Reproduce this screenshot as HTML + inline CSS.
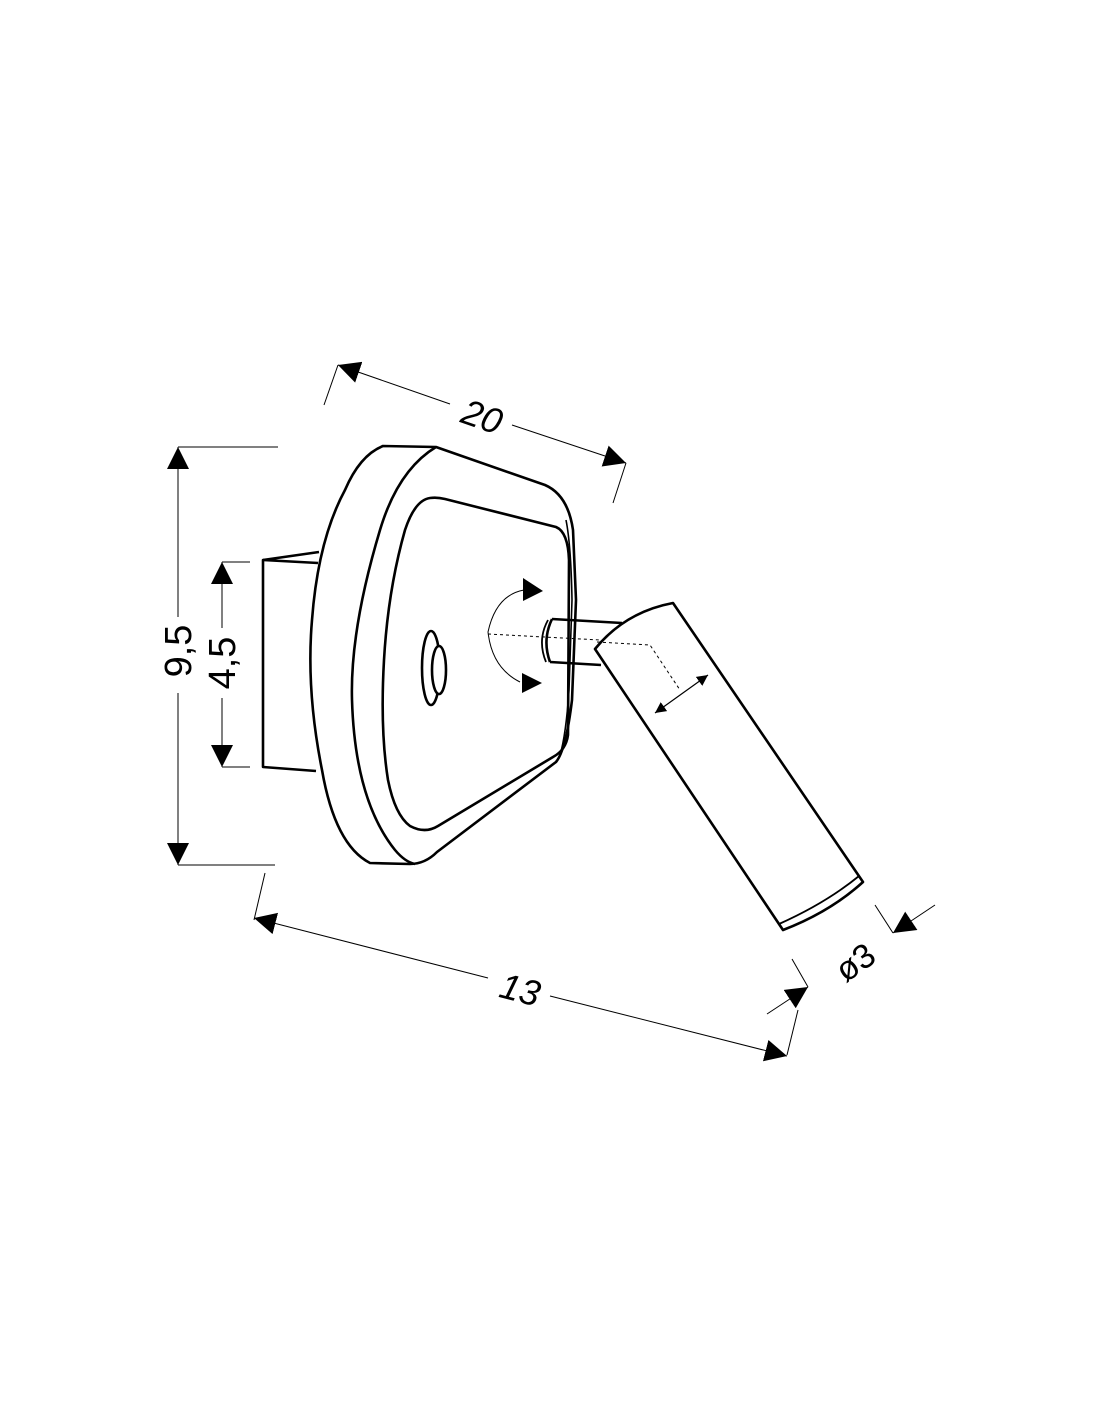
<!DOCTYPE html>
<html><head><meta charset="utf-8"><style>
html,body{margin:0;padding:0;background:#fff;}
svg{display:block;}
text{font-family:"Liberation Sans",sans-serif;fill:#000;}
</style></head><body>
<svg width="1100" height="1422" viewBox="0 0 1100 1422" xmlns="http://www.w3.org/2000/svg">
<defs>
<marker id="ah" viewBox="0 0 10 10" refX="10" refY="5" markerWidth="22" markerHeight="22" markerUnits="userSpaceOnUse" orient="auto-start-reverse"><path d="M0,0 L10,5 L0,10 Z" fill="#000"/></marker>
<marker id="sa" viewBox="0 0 10 10" refX="10" refY="5" markerWidth="11" markerHeight="11" markerUnits="userSpaceOnUse" orient="auto-start-reverse"><path d="M0,0 L10,5 L0,10 Z" fill="#000"/></marker>
</defs>

<g fill="none" stroke="#000" stroke-width="2.6" stroke-linejoin="round">
<path d="M319,552 L263,560 L263,767 L316,771"/>
<path d="M263,560 L318,563"/>

<path d="M383,446 L436,447 L545,485 Q568,495 573,530 L576,600 L572,700 Q566,750 556,762 L437,852 Q425,864 410,864 L370,863 Q335,845 322,770 Q306,690 312,620 Q318,540 345,490 Q360,455 383,446 Z" fill="#fff"/>
<path d="M436,447 Q398,470 380,530 Q350,630 352,700 Q355,800 395,850 Q405,862 415,864"/>
<path d="M566,520 Q571,545 572,600 L569,690 Q566,735 560,755" stroke-width="1.6"/>
<path d="M430,498 Q437,497 445,499 L556,527 Q568,532 569,560 L568,735 Q566,750 553,757 L438,826 Q425,834 410,826 Q395,815 388,780 Q380,730 384,660 Q388,590 405,530 Q415,500 430,498 Z"/>
<ellipse cx="431" cy="668" rx="9" ry="37" fill="#fff"/>
<ellipse cx="439" cy="670" rx="7" ry="24" fill="#fff"/>
</g>

<path d="M524,590 Q496,595 488,632 Q492,668 520,682" fill="none" stroke="#000" stroke-width="1"/>
<path d="M523,578 L543,591 L523,601 Z" fill="#000"/>
<path d="M522,673 L542,683 L522,693 Z" fill="#000"/>

<g fill="none" stroke="#000" stroke-width="2.6" stroke-linejoin="round">
<path d="M552,619 L622,623 M550,662 L601,665" />
<path d="M552,619 Q542,640 550,662" />
<path d="M548,620 Q537,640 546,662" stroke-width="1.8"/>
<path d="M595,649 Q625,612 673,603 L863,882 Q830,912 783,930 Z" fill="#fff"/>
<path d="M859,876 Q826,903 779,924" stroke-width="1.8"/>
</g>
<line x1="488" y1="634" x2="600" y2="640" stroke="#000" stroke-width="1" stroke-dasharray="3,3"/>
<path d="M597,642 L650,645 L680,690" fill="none" stroke="#000" stroke-width="1" stroke-dasharray="3,3"/>
<line x1="655" y1="713" x2="708" y2="675" stroke="#000" stroke-width="1.2" marker-start="url(#sa)" marker-end="url(#sa)"/>

<g stroke="#000" stroke-width="1" fill="none">
<line x1="324" y1="405" x2="338" y2="365"/>
<line x1="613" y1="503" x2="626" y2="463"/>
<line x1="338" y1="365" x2="450" y2="404" marker-start="url(#ah)"/>
<line x1="512" y1="425" x2="626" y2="463" marker-end="url(#ah)"/>
<line x1="178" y1="447" x2="278" y2="447"/>
<line x1="178" y1="865" x2="275" y2="865"/>
<line x1="178" y1="447" x2="178" y2="617" marker-start="url(#ah)"/>
<line x1="178" y1="693" x2="178" y2="865" marker-end="url(#ah)"/>
<line x1="222" y1="562" x2="250" y2="562"/>
<line x1="222" y1="767" x2="250" y2="767"/>
<line x1="222" y1="562" x2="222" y2="628" marker-start="url(#ah)"/>
<line x1="222" y1="698" x2="222" y2="767" marker-end="url(#ah)"/>
<line x1="265" y1="873" x2="254" y2="920"/>
<line x1="787" y1="1055" x2="798" y2="1010"/>
<line x1="254" y1="918" x2="488" y2="978" marker-start="url(#ah)"/>
<line x1="550" y1="996" x2="787" y2="1056" marker-end="url(#ah)"/>
<line x1="792" y1="959" x2="808" y2="987"/>
<line x1="875" y1="905" x2="893" y2="933"/>
<line x1="767" y1="1014" x2="808" y2="987" marker-end="url(#ah)"/>
<line x1="935" y1="905" x2="893" y2="933" marker-end="url(#ah)"/>
</g>

<text x="482" y="429" font-size="36" text-anchor="middle" transform="rotate(19 482 417)" font-style="italic">20</text>
<text x="178" y="664" font-size="38" text-anchor="middle" transform="rotate(-90 178 651)">9,5</text>
<text x="222" y="676" font-size="38" text-anchor="middle" transform="rotate(-90 222 663)">4,5</text>
<text x="520" y="1002" font-size="36" text-anchor="middle" transform="rotate(14.6 520 990)" font-style="italic">13</text>
<text x="855" y="974" font-size="34" text-anchor="middle" transform="rotate(-35 855 962)">ø3</text>
</svg>
</body></html>
